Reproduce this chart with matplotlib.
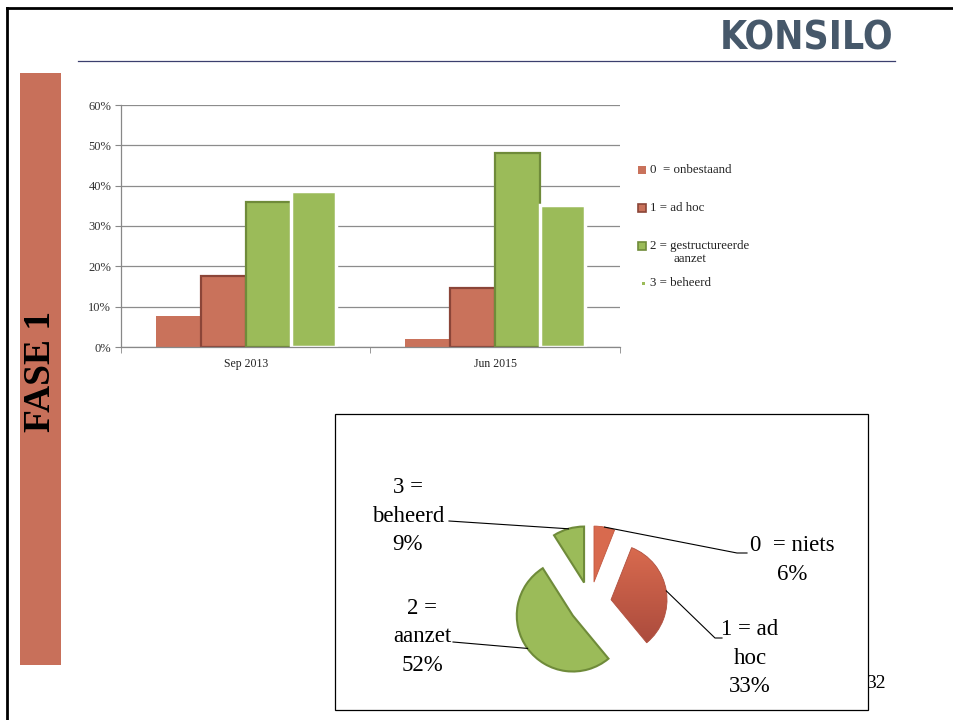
import numpy as np
import matplotlib
matplotlib.use("Agg")
import matplotlib.pyplot as plt
from matplotlib.patches import Rectangle
from matplotlib.lines import Line2D
from matplotlib.colors import LinearSegmentedColormap

# ---------------- data ----------------
categories = ["Sep 2013", "Jun 2015"]
series_labels = ["0  = onbestaand", "1 = ad hoc", "2 = gestructureerde\naanzet", "3 = beheerd"]
s0_onbestaand = [7.8, 2.1]
s1_adhoc = [17.7, 14.7]
s2_gestructureerd = [36.0, 48.0]
s3_beheerd = [38.6, 35.1]
yticks = [0, 10, 20, 30, 40, 50, 60]

pie_labels = ["0  = niets\n6%", "1 = ad\nhoc\n33%", "2 =\naanzet\n52%", "3 =\nbeheerd\n9%"]
pie_values = [6, 33, 52, 9]

# ---------------- styling ----------------
SERIF = ["Liberation Serif", "DejaVu Serif"]
RED = "#C9725B"
RED_EDGE = "#8B4538"
GREEN = "#9BBB59"
GREEN_EDGE = "#6F8B3A"

W, H = 954, 720
fig = plt.figure(figsize=(W / 100, H / 100), dpi=100)
fig.patch.set_facecolor("white")


def rect(x0, y0, x1, y1):
    return [x0 / W, 1 - y1 / H, (x1 - x0) / W, (y1 - y0) / H]


def fx(x):
    return x / W


def fy(y):
    return 1 - y / H


# slide border (top and left)
fig.add_artist(Line2D([fx(7), fx(954)], [fy(8), fy(8)], color="black", lw=2.0))
fig.add_artist(Line2D([fx(7), fx(7)], [fy(8), fy(720)], color="black", lw=2.0))

# header line and logo
fig.add_artist(Line2D([fx(78), fx(895)], [fy(61), fy(61)], color="#3B3F6E", lw=0.9))
fig.text(fx(893), fy(39), "KONSILO", ha="right", va="center", fontsize=28,
         fontweight="bold", fontstretch="condensed", color="#46586A",
         family=["DejaVu Sans"])

# sidebar
fig.add_artist(Rectangle((fx(20), fy(665)), fx(61) - fx(20), fy(73) - fy(665),
                         transform=fig.transFigure, facecolor="#C8705A", edgecolor="none"))
fig.text(fx(41), fy(371), "FASE 1", rotation=90, ha="center", va="center",
         fontsize=27, fontweight="bold", color="black", family=SERIF)

# ---------------- bar chart ----------------
ax = fig.add_axes(rect(121, 105, 620, 347))
x = np.arange(len(categories))
w = 0.18
series = [s0_onbestaand, s1_adhoc, s2_gestructureerd, s3_beheerd]
styles = [
    dict(color=RED, edgecolor="none", linewidth=0),
    dict(color=RED, edgecolor=RED_EDGE, linewidth=1.6),
    dict(color=GREEN, edgecolor=GREEN_EDGE, linewidth=1.6),
    dict(color=GREEN, edgecolor="white", linewidth=2.5),
]
for i, (vals, st) in enumerate(zip(series, styles)):
    ax.bar(x + (i - 1.5) * w, vals, width=w, zorder=2 + i * 0.1, **st)

ax.set_xlim(-0.5, 1.5)
ax.set_ylim(0, 60)
ax.set_yticks(yticks)
ax.set_yticklabels([f"{v}%" for v in yticks], family=SERIF, fontsize=9, color="#333333")
ax.set_xticks(x)
ax.set_xticklabels(categories, family=SERIF, fontsize=8.5, color="#222222")
ax.set_xticks([-0.5, 0.5, 1.5], minor=True)
ax.tick_params(axis="x", which="major", length=0, pad=8)
ax.tick_params(axis="x", which="minor", length=4, color="#888888", direction="out")
ax.tick_params(axis="y", length=4, color="#888888", direction="out", pad=3)
ax.yaxis.grid(True, color="#8C8C8C", lw=0.9)
ax.set_axisbelow(True)
for s in ["top", "right"]:
    ax.spines[s].set_visible(False)
for s in ["left", "bottom"]:
    ax.spines[s].set_color("#888888")
    ax.spines[s].set_linewidth(0.9)

# legend (manual)
leg_y = [170, 208, 246, 283]
for i, (lab, yy) in enumerate(zip(series_labels, leg_y)):
    if i < 3:
        ec = ["none", RED_EDGE, GREEN_EDGE][i]
        fc = [RED, RED, GREEN][i]
        fig.add_artist(Rectangle((fx(638), fy(yy + 4)), 8 / W, 8 / H, transform=fig.transFigure,
                                 facecolor=fc, edgecolor=ec, lw=1.2))
    else:
        fig.add_artist(Rectangle((fx(642), fy(yy + 1.5)), 3 / W, 3 / H, transform=fig.transFigure,
                                 facecolor=GREEN, edgecolor="none"))
    parts = lab.split("\n")
    fig.text(fx(650), fy(yy), parts[0], ha="left", va="center", fontsize=9.3,
             family=SERIF, color="#222222")
    if len(parts) > 1:
        fig.text(fx(673), fy(yy + 13), parts[1], ha="left", va="center", fontsize=9.3,
                 family=SERIF, color="#222222")

# ---------------- pie chart ----------------
fig.text(fx(866), fy(684), "32", ha="left", va="center", fontsize=14, family=SERIF,
         color="black", zorder=-3)
fig.add_artist(Rectangle((fx(335), fy(710)), fx(868) - fx(335), fy(414) - fy(710),
                         transform=fig.transFigure, facecolor="white", edgecolor="black",
                         lw=0.9, zorder=-2))

cx, cy, R = 590, 603, 56
half = 150
pax = fig.add_axes(rect(cx - half, cy - half, cx + half, cy + half))
pax.patch.set_visible(False)
wedges, _ = pax.pie(pie_values, colors=["#D86A4E", "#D86A4E", GREEN, GREEN],
                    startangle=90, counterclock=False, explode=[0.38] * 4, radius=1,
                    wedgeprops=dict(linewidth=1.5))
wedges[0].set_edgecolor("#C2573F")
wedges[0].set_linewidth(0.6)
wedges[2].set_edgecolor(GREEN_EDGE)
wedges[3].set_edgecolor(GREEN_EDGE)

# gradient for slice 1
cmap = LinearSegmentedColormap.from_list("g", ["#A4463A", "#DC6D50"])
wd = wedges[1]
wcx, wcy = wd.center
grad = np.linspace(0, 1, 256).reshape(-1, 1)
im = pax.imshow(grad, cmap=cmap, origin="lower", aspect="auto",
                extent=[wcx - 1.05, wcx + 1.05, wcy - 1.05, wcy + 1.05], zorder=1)
im.set_clip_path(wd)
wd.set_facecolor("none")
wd.set_edgecolor("#B0503F")
wd.set_linewidth(0.6)
wd.set_zorder(2)

L = half / R
pax.set_xlim(-L, L)
pax.set_ylim(-L, L)
pax.set_aspect("equal")
pax.axis("off")


def d(px, py):
    return ((px - cx) / R, (cy - py) / R)


label_pos = [(792, 560), (750, 658), (422, 637), (408, 516)]
leader_pts = [
    [(737, 553), (747, 553)],
    [(715, 638), (722, 638)],
    [(453, 642)],
    [(449, 521)],
]
for i, wd in enumerate(wedges):
    th = np.deg2rad((wd.theta1 + wd.theta2) / 2)
    ox, oy = wd.center
    p0 = (ox + wd.r * np.cos(th), oy + wd.r * np.sin(th))
    pts = [p0] + [d(*p) for p in leader_pts[i]]
    pax.plot([p[0] for p in pts], [p[1] for p in pts], color="black", lw=0.8,
             clip_on=False, zorder=5)
    tx, ty = d(*label_pos[i])
    pax.text(tx, ty, pie_labels[i], ha="center", va="center", fontsize=16.5,
             family=SERIF, linespacing=1.45, color="black", zorder=6)

fig.savefig("out.png", dpi=100)
